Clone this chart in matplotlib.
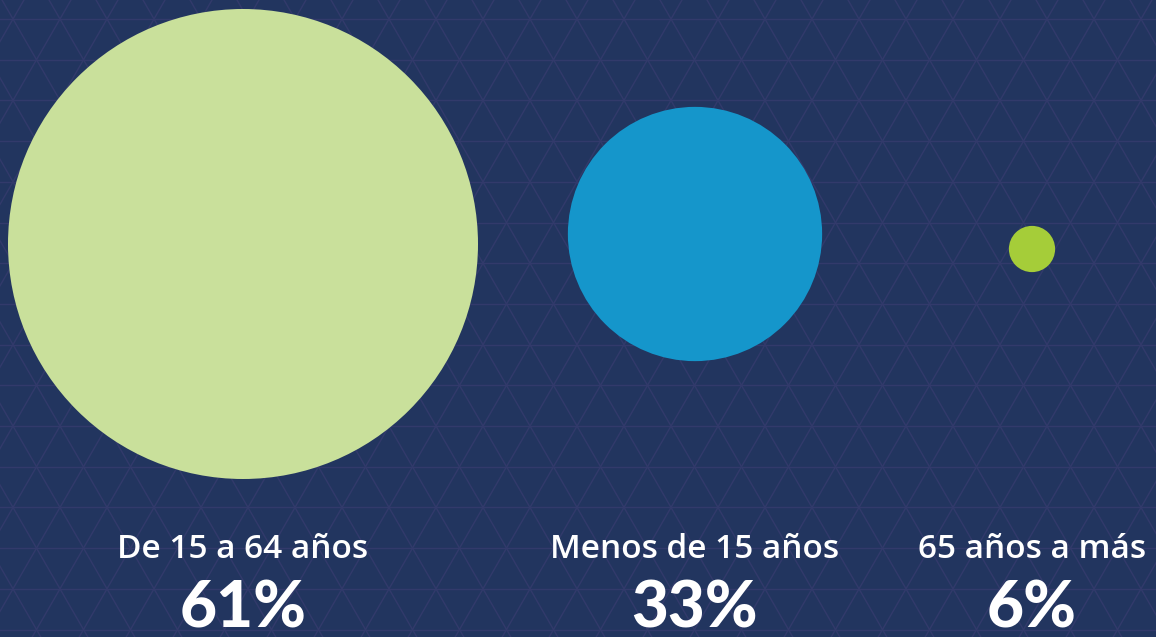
import numpy as np
import matplotlib.pyplot as plt
from matplotlib.patches import Circle

# data
labels = ['De 15 a 64 años', 'Menos de 15 años', '65 años a más']
values = [61, 33, 6]
colors = ['#c9e09b', '#1596cb', '#a5cd39']

# layout (pixel coords)
W, H = 1156, 637
cx = [243, 695, 1032]
cy = [244, 234, 249]
px_per_unit = 235 / 61   # radius grows linearly with the value
bg = '#22355f'
line_col = '#323a6b'

fig = plt.figure(figsize=(W / 100, H / 100), dpi=100)
fig.patch.set_facecolor(bg)
ax = fig.add_axes([0, 0, 1, 1])
ax.set_xlim(0, W); ax.set_ylim(H, 0)
ax.set_aspect('equal')
ax.axis('off')

# background triangle lattice
side = 47.0
dy = side * np.sin(np.pi / 3)
y0, x0 = 19.0, 859.0
for k in range(-2, 20):
    y = y0 + k * dy
    ax.plot([0, W], [y, y], color=line_col, lw=1.0, zorder=0)
slope = np.tan(np.pi / 3)
for k in range(-40, 40):
    xa = x0 + k * side
    ys = np.array([-50, H + 50])
    ax.plot(xa + (ys - y0) / slope, ys, color=line_col, lw=1.0, zorder=0)
    ax.plot(xa - (ys - y0) / slope, ys, color=line_col, lw=1.0, zorder=0)

for i in range(len(values)):
    r = values[i] * px_per_unit
    ax.add_patch(Circle((cx[i], cy[i]), r, facecolor=colors[i], edgecolor='none', zorder=2))
    ax.text(cx[i], 549, labels[i], color='white', fontsize=24, fontweight='semibold',
            family=['Open Sans', 'DejaVu Sans'], ha='center', va='center', zorder=3)
    ax.text(cx[i], 638, f'{values[i]}%', color='white', fontsize=46, fontweight='black',
            family=['Lato', 'DejaVu Sans'], ha='center', va='bottom', zorder=3)

plt.savefig('out.png', dpi=100, facecolor=bg)
